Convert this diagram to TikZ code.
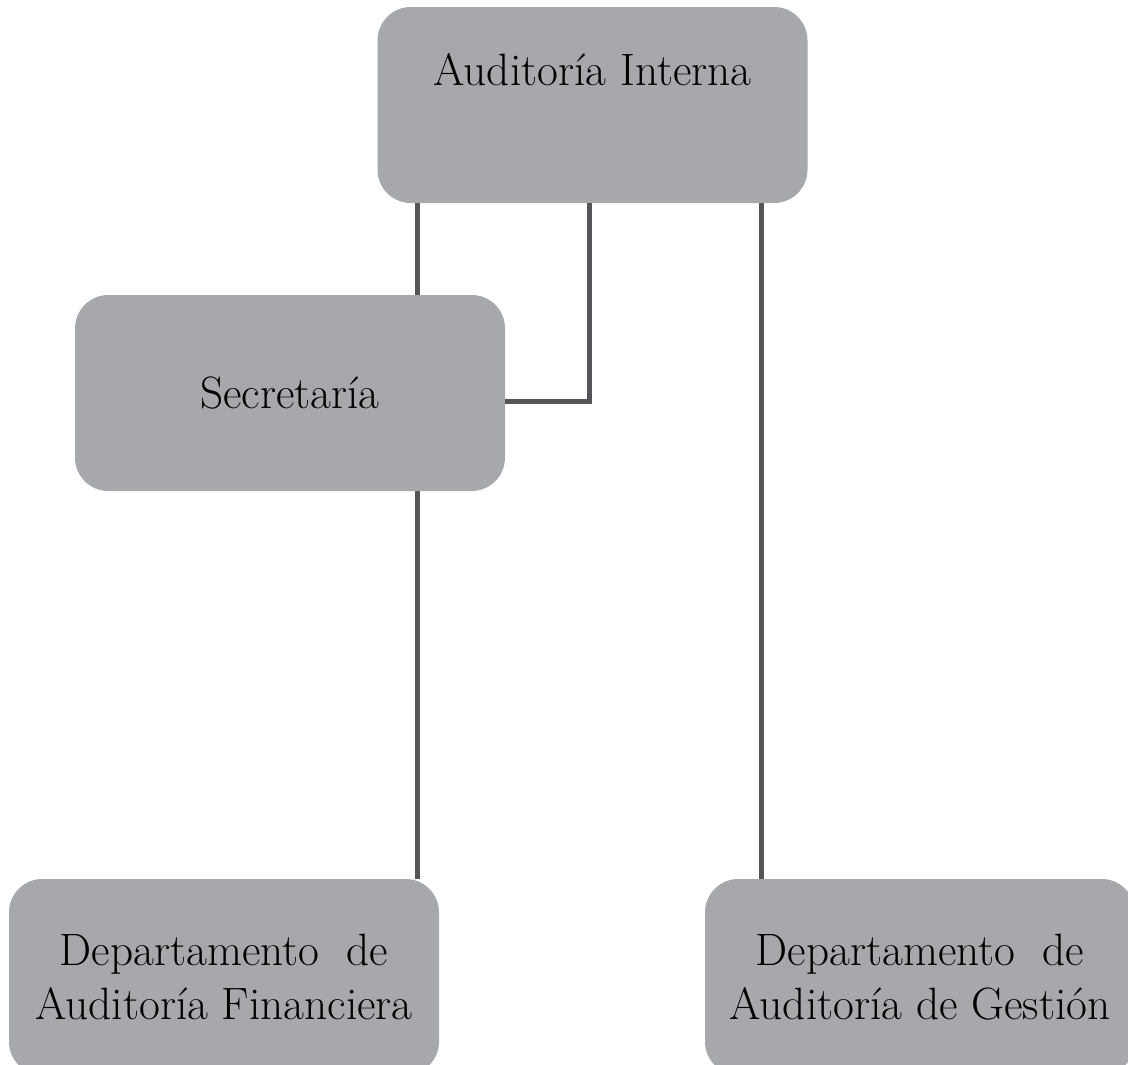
\documentclass[tikz,border=0pt]{standalone}
\usetikzlibrary{calc}
\definecolor{boxgray}{RGB}{167,168,172}
\definecolor{linegray}{RGB}{85,85,87}
\begin{document}
\begin{tikzpicture}[x=0.75pt,y=0.75pt,yscale=-1,xscale=1,
  unit/.style={fill=boxgray, rounded corners=25pt, minimum width=322.5pt, minimum height=147pt, inner sep=0pt, font=\fontsize{34}{41}\selectfont},
  link/.style={draw=linegray, line width=3.75pt}]
%set diagram left start at 0, and has height of 1064
\useasboundingbox (0,0) rectangle (1128,1064);

%Shape: Rounded Rectangle [id:aud]
\node[unit, text depth=54pt] (aud) at (592.5,105) {Auditoría Interna};
%Shape: Rounded Rectangle [id:sec]
\node[unit] (sec) at (290,393) {Secretaría};
%Shape: Rounded Rectangle [id:fin]
\node[unit, align=center] (fin) at (224,977) {Departamento\ \ de\\Auditoría Financiera};
%Shape: Rounded Rectangle [id:ges]
\node[unit, align=center] (ges) at (920,977) {Departamento\ \ de\\Auditoría de Gestión};

% columns of the connectors
\coordinate (lft) at (417,0);
\coordinate (mid) at (589,0);
\coordinate (rgt) at (761,0);

%Straight Lines
\draw[link] (aud.south -| lft) -- (sec.north -| lft);
\draw[link] (sec.south -| lft) -- (fin.north -| lft);
\draw[link] (aud.south -| mid) |- ($(sec.east)+(0,8)$);
\draw[link] (aud.south -| rgt) -- (ges.north -| rgt);

\end{tikzpicture}
\end{document}
